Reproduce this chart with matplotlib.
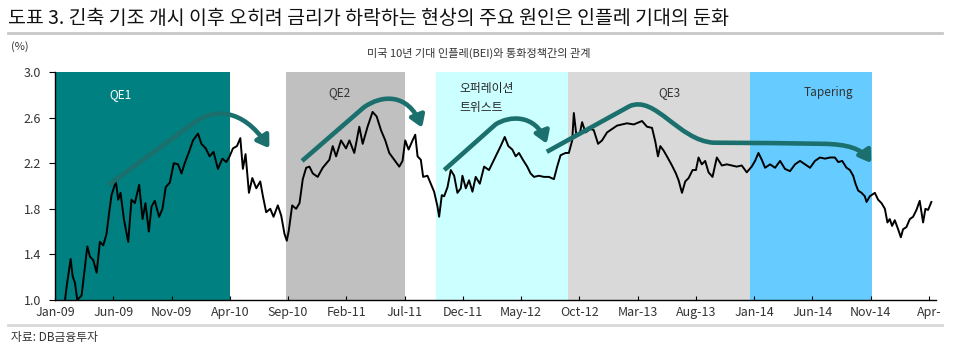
import numpy as np
import matplotlib.pyplot as plt
from matplotlib.path import Path
from matplotlib.patches import FancyArrowPatch
from matplotlib.lines import Line2D

plt.rcParams['font.family'] = ['Noto Sans CJK KR', 'DejaVu Sans']

# months since Jan-09 and 10y breakeven inflation (%)
months = [0.86, 1.0, 1.34, 1.51, 1.71, 1.91, 2.28, 2.57, 2.77, 3.0, 3.28, 3.57, 3.85, 4.14, 4.42,
          4.65, 4.85, 5.22, 5.42, 5.62, 5.91, 6.28, 6.56, 6.85, 7.22, 7.51, 7.76, 8.05, 8.28, 8.56,
          8.93, 9.22, 9.5, 9.85, 10.19, 10.56, 10.85, 11.13, 11.5, 11.84, 12.27, 12.56, 12.93, 13.27,
          13.6, 13.98, 14.36, 14.7, 14.98, 15.27, 15.61, 15.9, 16.12, 16.35, 16.64, 16.93, 17.27,
          17.61, 17.84, 18.12, 18.47, 18.75, 19.12, 19.41, 19.69, 19.89, 20.06, 20.35, 20.69, 20.98,
          21.26, 21.55, 21.83, 22.12, 22.54, 22.97, 23.54, 23.83, 24.12, 24.54, 24.97, 25.26, 25.68,
          26.11, 26.4, 26.82, 27.25, 27.6, 27.97, 28.34, 28.68, 29.11, 29.54, 29.82, 30.05, 30.34,
          30.68, 30.91, 31.11, 31.39, 31.59, 31.96, 32.25, 32.53, 32.82, 32.96, 33.19, 33.39, 33.68,
          33.96, 34.25, 34.53, 34.82, 34.96, 35.25, 35.53, 35.82, 36.1, 36.45, 36.82, 37.24, 37.67,
          37.95, 38.24, 38.59, 38.9, 39.24, 39.53, 39.81, 40.15, 40.52, 40.81, 41.1, 41.52, 41.95,
          42.38, 42.81, 43.09, 43.38, 43.81, 44.09, 44.38, 44.52, 44.72, 45.01, 45.23, 45.52, 45.95,
          46.23, 46.6, 46.94, 47.37, 47.8, 48.23, 48.66, 49.08, 49.66, 50.37, 50.8, 51.23, 51.51,
          51.74, 51.94, 52.23, 52.51, 52.94, 53.28, 53.51, 53.8, 54.08, 54.37, 54.71, 55.0, 55.22,
          55.5, 55.79, 56.08, 56.42, 56.79, 57.22, 57.65, 58.07, 58.5, 58.93, 59.36, 59.78, 60.07,
          60.36, 60.65, 60.93, 61.36, 61.79, 62.22, 62.64, 63.07, 63.5, 63.93, 64.36, 64.79, 65.21,
          65.64, 66.07, 66.5, 66.92, 67.21, 67.55, 67.92, 68.21, 68.49, 68.69, 68.92, 69.21, 69.49,
          69.64, 69.92, 70.35, 70.63, 70.92, 71.21, 71.43, 71.63, 71.83, 72.06, 72.35, 72.58, 72.77,
          73.06, 73.35, 73.63, 73.92, 74.2, 74.49, 74.69, 74.92, 75.2]
bei = [1.0, 1.12, 1.36, 1.21, 1.15, 1.0, 1.04, 1.29, 1.47, 1.38, 1.35, 1.24, 1.51, 1.48, 1.58,
       1.77, 1.92, 2.04, 1.88, 1.94, 1.71, 1.51, 1.88, 1.85, 2.01, 1.71, 1.85, 1.60, 1.82, 1.87,
       1.73, 1.80, 1.99, 2.03, 2.20, 2.19, 2.11, 2.20, 2.30, 2.40, 2.46, 2.37, 2.33, 2.26,
       2.30, 2.15, 2.24, 2.21, 2.26, 2.33, 2.35, 2.42, 2.15, 2.28, 1.94, 2.07, 1.98,
       2.04, 1.91, 1.77, 1.80, 1.73, 1.83, 1.74, 1.58, 1.52, 1.61, 1.83, 1.80, 1.85,
       2.06, 2.16, 2.17, 2.11, 2.08, 2.16, 2.23, 2.35, 2.26, 2.40, 2.33, 2.40, 2.29,
       2.52, 2.37, 2.52, 2.65, 2.61, 2.49, 2.40, 2.29, 2.23, 2.17, 2.22, 2.40, 2.32,
       2.40, 2.45, 2.26, 2.23, 2.08, 2.09, 2.02, 1.95, 1.82, 1.73, 1.92, 1.91, 1.99,
       2.14, 2.09, 1.94, 1.98, 2.09, 1.98, 2.05, 1.95, 2.08, 2.02, 2.17, 2.14, 2.23,
       2.29, 2.35, 2.43, 2.35, 2.32, 2.26, 2.29, 2.23, 2.17, 2.11, 2.08, 2.09, 2.08,
       2.08, 2.06, 2.17, 2.27, 2.29, 2.29, 2.40, 2.64, 2.46, 2.45, 2.56, 2.47, 2.50,
       2.49, 2.37, 2.40, 2.47, 2.50, 2.53, 2.54, 2.55, 2.54, 2.57, 2.52, 2.51, 2.39,
       2.26, 2.35, 2.31, 2.26, 2.18, 2.11, 2.05, 1.94, 2.04, 2.07, 2.14, 2.14, 2.25,
       2.19, 2.22, 2.12, 2.08, 2.25, 2.18, 2.19, 2.18, 2.17, 2.18, 2.12, 2.17, 2.22,
       2.29, 2.23, 2.16, 2.19, 2.16, 2.22, 2.15, 2.13, 2.19, 2.22, 2.19, 2.16, 2.22,
       2.25, 2.24, 2.25, 2.25, 2.21, 2.22, 2.16, 2.14, 2.09, 2.02, 1.96, 1.94, 1.91,
       1.86, 1.91, 1.94, 1.88, 1.85, 1.80, 1.68, 1.71, 1.65, 1.70, 1.62, 1.55, 1.62,
       1.64, 1.71, 1.73, 1.79, 1.87, 1.68, 1.80, 1.79, 1.86]

x_ticks = list(range(0, 76, 5))
x_labels = ['Jan-09', 'Jun-09', 'Nov-09', 'Apr-10', 'Sep-10', 'Feb-11', 'Jul-11', 'Dec-11',
            'May-12', 'Oct-12', 'Mar-13', 'Aug-13', 'Jan-14', 'Jun-14', 'Nov-14', 'Apr-']
y_ticks = [1.0, 1.4, 1.8, 2.2, 2.6, 3.0]

# policy periods: start month, end month, label, colour
periods = [(0, 15.0, 'QE1', '#008080'),
           (19.85, 30.0, 'QE2', '#c0c0c0'),
           (32.7, 44.0, '오퍼레이션\n트위스트', '#ccffff'),
           (44.0, 59.6, 'QE3', '#d9d9d9'),
           (59.6, 70.1, 'Tapering', '#66ccff')]
label_pos = [(5.6, 2.80, 'white', 'center'),
             (24.4, 2.82, '#333333', 'center'),
             (34.7, 2.77, '#222222', 'left'),
             (52.7, 2.82, '#333333', 'center'),
             (66.4, 2.82, '#333333', 'center')]

# teal trend arrows: start, straight run, then cubic segments (c1, c2, end)
arrows = [
    [(4.6, 2.01), (12.0, 2.56), [(13.5, 2.67), (16.0, 2.70), (18.4, 2.33)]],
    [(21.2, 2.22), (26.5, 2.69), [(28.0, 2.80), (30.3, 2.82), (31.5, 2.51)]],
    [(33.4, 2.14), (37.8, 2.54), [(39.0, 2.62), (41.2, 2.63), (42.2, 2.37)]],
    [(42.2, 2.30), (49.3, 2.70), [(51.5, 2.80), (53.5, 2.40), (56.5, 2.38)],
     [(60.0, 2.378), (63.0, 2.375), (66.0, 2.37)],
     [(68.0, 2.365), (69.2, 2.33), (70.05, 2.20)]],
]
arrow_color = '#1b706d'

fig = plt.figure(figsize=(9.62, 3.45), dpi=100)
ax = fig.add_axes([0.0572, 0.1304, 0.9158, 0.6609])

for (start, end, name, col), (lx, ly, tcol, ha) in zip(periods, label_pos):
    ax.axvspan(start, end, color=col, lw=0, zorder=0)
    ax.text(lx, ly, name, color=tcol, ha=ha, va='center', fontsize=8.5, linespacing=1.6)

ax.plot(months, bei, color='black', lw=1.4, zorder=3)

for arr_def in arrows:
    verts = [arr_def[0], arr_def[1]]
    codes = [Path.MOVETO, Path.LINETO]
    for seg in arr_def[2:]:
        verts += seg
        codes += [Path.CURVE4] * 3
    arr = FancyArrowPatch(path=Path(verts, codes), arrowstyle='-|>,head_length=7,head_width=4.5',
                          color=arrow_color, lw=3.3, zorder=4, joinstyle='round', capstyle='butt')
    ax.add_patch(arr)

ax.set_xlim(0, 75.6)
ax.set_ylim(1.0, 3.0)
ax.set_xticks(x_ticks)
ax.set_xticklabels(x_labels, fontsize=9, color='#333333')
ax.set_yticks(y_ticks)
ax.set_yticklabels(['%.1f' % v for v in y_ticks], fontsize=9, color='#333333')
ax.tick_params(axis='x', direction='in', length=3, pad=4)
ax.tick_params(axis='y', direction='out', length=4, pad=6)
ax.spines['top'].set_visible(False)
ax.spines['right'].set_visible(False)
ax.spines['left'].set_linewidth(1.0)
ax.spines['bottom'].set_linewidth(1.0)

fig.text(0.008, 0.945, '도표 3. 긴축 기조 개시 이후 오히려 금리가 하락하는 현상의 주요 원인은 인플레 기대의 둔화',
         fontsize=14, color='#111111', va='center', ha='left')
fig.add_artist(Line2D([0.008, 0.979], [0.905, 0.905], color='#c8c8c8', lw=2.0))
fig.text(0.011, 0.866, '(%)', fontsize=8, color='#333333', va='center')
fig.text(0.498, 0.846, '미국 10년 기대 인플레(BEI)와 통화정책간의 관계', fontsize=8,
         color='#333333', va='center', ha='center')
fig.add_artist(Line2D([0.008, 0.979], [0.058, 0.058], color='#d8d8d8', lw=2.0))
fig.text(0.011, 0.022, '자료: DB금융투자', fontsize=8.5, color='#333333', va='center')

fig.savefig('out.png', dpi=100)
